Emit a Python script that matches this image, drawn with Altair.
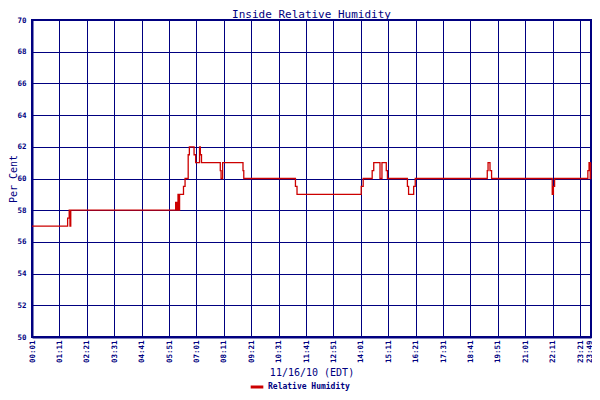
import altair as alt
import pandas as pd

# minutes after 00:01 and relative humidity (%)
times = [0, 91, 95, 97, 99, 367, 370, 373, 375, 377, 387, 391, 399, 402, 414, 418,
         428, 430, 433, 481, 483, 487, 539, 541, 673, 677, 841, 846, 869, 873, 889,
         894, 905, 908, 959, 962, 975, 979, 1163, 1165, 1170, 1174, 1329, 1332, 1335,
         1420, 1423, 1426, 1427, 1428]
values = [57, 57.5, 58, 57, 58, 58.5, 58, 59, 58, 59, 59.5, 60, 61.5, 62, 61.5, 61,
          62, 61.5, 61, 60.5, 60, 61, 60.5, 60, 59.5, 59, 59.5, 60, 60.5, 61, 60,
          61, 60.5, 60, 59.5, 59, 59.5, 60, 60.5, 61, 60.5, 60, 59, 59.5, 60,
          60.5, 61, 60, 61, 61]

tick_values = [0, 70, 140, 210, 280, 350, 420, 490, 560, 630, 700, 770, 840, 910,
               980, 1050, 1120, 1190, 1260, 1330, 1400, 1428]
tick_labels = ["00:01", "01:11", "02:21", "03:31", "04:41", "05:51", "07:01", "08:11",
               "09:21", "10:31", "11:41", "12:51", "14:01", "15:11", "16:21", "17:31",
               "18:41", "19:51", "21:01", "22:11", "23:21", "23:49"]
y_ticks = [50, 52, 54, 56, 58, 60, 62, 64, 66, 68, 70]

df = pd.DataFrame({"t": times, "rh": values, "series": "Relative Humidity"})

NAVY = "#000080"
FONT = "DejaVu Sans Mono"

label_expr = "[" + ",".join(f"'{l}'" for l in tick_labels) + "][indexof([" + \
    ",".join(str(v) for v in tick_values) + "], datum.value)]"

last_tick = tick_values[-1]

chart = alt.Chart(df).mark_line(interpolate="step-after", strokeWidth=1.3).encode(
    x=alt.X("t:Q",
            scale=alt.Scale(domain=[0, 1428], nice=False, zero=False),
            axis=alt.Axis(values=tick_values, labelExpr=label_expr, labelAngle=270,
                          labelAlign="right",
                          labelBaseline=alt.condition(f"datum.value == {last_tick}",
                                                      alt.value("alphabetic"),
                                                      alt.value("middle")),
                          labelPadding=3,
                          labelFontSize=7.5, labelFontWeight="bold",
                          title="11/16/10 (EDT)", titleFontSize=10, titleFontWeight="normal",
                          titlePadding=5)),
    y=alt.Y("rh:Q",
            scale=alt.Scale(domain=[50, 70], nice=False, zero=False),
            axis=alt.Axis(values=y_ticks, labelFontSize=7.5, labelFontWeight="bold",
                          labelPadding=6, title="Per Cent", titleFontSize=10,
                          titleFontWeight="normal", titleX=-16,
                          titleBaseline="alphabetic")),
    color=alt.Color("series:N", scale=alt.Scale(range=["#cc0000"]),
                    legend=alt.Legend(title=None, orient="none", legendX=217, legendY=359,
                                      symbolType="stroke", symbolSize=160,
                                      symbolStrokeWidth=3, labelFontSize=8,
                                      labelOffset=3,
                                      labelColor=NAVY, labelFont=FONT,
                                      labelFontWeight="bold")),
).properties(
    width=559, height=317,
    background="white",
    title=alt.TitleParams("Inside Relative Humidity", fontSize=11, fontWeight="normal",
                          color=NAVY, font=FONT, offset=0, dy=4),
    autosize=alt.AutoSizeParams(type="none"),
    padding={"left": 24, "top": 12, "right": 1, "bottom": 55},
).configure_axis(
    grid=True, gridColor=NAVY, gridWidth=1, gridOpacity=1,
    domainColor=NAVY, domainWidth=2, ticks=False,
    labelColor=NAVY, titleColor=NAVY, labelFont=FONT, titleFont=FONT,
).configure_view(
    stroke=NAVY, strokeWidth=2
)

chart.save("out.html", embed_options={"renderer": "svg", "actions": False})
